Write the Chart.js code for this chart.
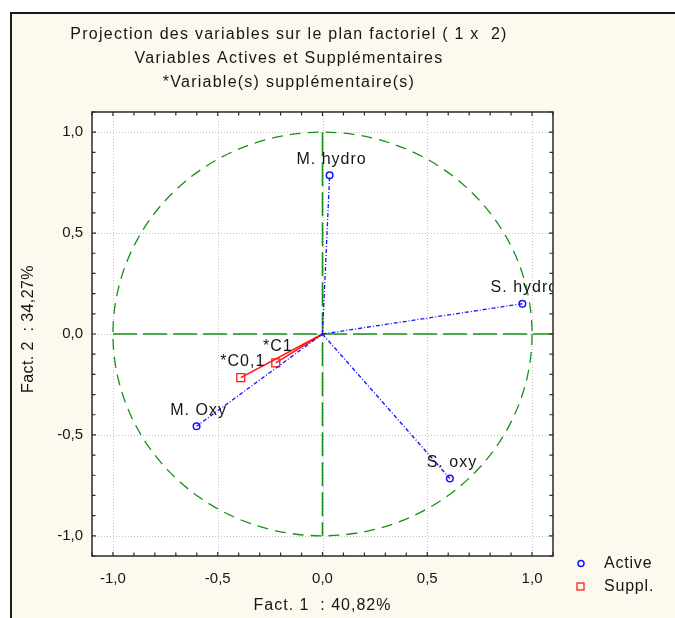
<!DOCTYPE html>
<html>
<head>
<meta charset="utf-8">
<script src="https://cdn.jsdelivr.net/npm/chart.js@4.4.1/dist/chart.umd.min.js"></script>
<style>
  html, body { margin: 0; padding: 0; background: #ffffff; }
  #wrap { width: 675px; height: 618px; }
</style>
</head>
<body>
<div id="wrap"><canvas id="c" width="675" height="618"></canvas></div>
<script>
// ---- data ----
const titleLines = [
  'Projection des variables sur le plan factoriel ( 1 x  2)',
  'Variables Actives et Supplémentaires',
  '*Variable(s) supplémentaire(s)'
];
const xAxisTitle = 'Fact. 1  : 40,82%';
const yAxisTitle = 'Fact. 2  : 34,27%';
const tickValues = [-1.0, -0.5, 0.0, 0.5, 1.0];
const axisMin = -1.1;
const axisMax = 1.1;

const activeNames = ['M. hydro', 'S. hydro', 'S. oxy', 'M. Oxy'];
const activeX = [0.034, 0.954, 0.608, -0.601];
const activeY = [0.786, 0.150, -0.716, -0.457];

const supplNames = ['*C0,1', '*C1'];
const supplX = [-0.390, -0.223];
const supplY = [-0.216, -0.143];

const legendLabels = ['Active', 'Suppl.'];

// ---- styles ----
const FONT = '"Liberation Sans", Arial, sans-serif';
const TEXT = '#161616';
const BLUE = '#1414ff';
const RED = '#ff1a1a';
const GREEN = '#179017';

function setLS(ctx, px) { if ('letterSpacing' in ctx) ctx.letterSpacing = px + 'px'; }

const datasets = [];
activeNames.forEach((n, i) => {
  datasets.push({
    label: n, kind: 'active',
    data: [{x: 0, y: 0}, {x: activeX[i], y: activeY[i]}],
    showLine: true, borderColor: BLUE, borderWidth: 1.3, borderDash: [4, 2, 1, 2],
    pointRadius: [0, 3.3], pointStyle: 'circle', pointBorderColor: BLUE,
    pointBackgroundColor: 'rgba(0,0,0,0)', pointBorderWidth: 1.5
  });
});
supplNames.forEach((n, i) => {
  datasets.push({
    label: n, kind: 'suppl',
    data: [{x: 0, y: 0}, {x: supplX[i], y: supplY[i]}],
    showLine: true, borderColor: RED, borderWidth: 1.6,
    pointRadius: [0, 5.6], pointStyle: 'rect', pointBorderColor: RED,
    pointBackgroundColor: 'rgba(0,0,0,0)', pointBorderWidth: 1.3
  });
});

const fmt = v => v.toFixed(1).replace('.', ',');

const decor = {
  id: 'decor',
  beforeDraw(chart) {
    const ctx = chart.ctx, a = chart.chartArea;
    ctx.save();
    ctx.fillStyle = '#ffffff';
    ctx.fillRect(0, 0, chart.width, chart.height);
    ctx.fillStyle = '#fef9ee';
    ctx.fillRect(11, 13, chart.width - 11, chart.height - 13);
    ctx.strokeStyle = '#1a1a1a';
    ctx.lineWidth = 2;
    ctx.beginPath();
    ctx.moveTo(11, chart.height);
    ctx.lineTo(11, 13);
    ctx.lineTo(chart.width, 13);
    ctx.stroke();
    ctx.fillStyle = '#ffffff';
    ctx.fillRect(a.left, a.top, a.right - a.left, a.bottom - a.top);
    ctx.restore();
  },
  beforeDatasetsDraw(chart) {
    const ctx = chart.ctx, a = chart.chartArea;
    const xs = chart.scales.x, ys = chart.scales.y;
    ctx.save();
    ctx.beginPath();
    ctx.rect(a.left, a.top, a.right - a.left, a.bottom - a.top);
    ctx.clip();
    // dotted grid
    ctx.strokeStyle = '#c4c4c4';
    ctx.lineWidth = 1;
    ctx.setLineDash([1, 2]);
    tickValues.forEach(v => {
      const px = Math.round(xs.getPixelForValue(v)) + 0.5;
      const py = Math.round(ys.getPixelForValue(v)) + 0.5;
      ctx.beginPath(); ctx.moveTo(px, a.top); ctx.lineTo(px, a.bottom); ctx.stroke();
      ctx.beginPath(); ctx.moveTo(a.left, py); ctx.lineTo(a.right, py); ctx.stroke();
    });
    // unit circle
    const cx = xs.getPixelForValue(0), cy = ys.getPixelForValue(0);
    const rx = Math.abs(xs.getPixelForValue(1) - cx);
    const ry = Math.abs(ys.getPixelForValue(1) - cy);
    ctx.strokeStyle = GREEN;
    ctx.lineWidth = 1.3;
    ctx.setLineDash([11, 7]);
    ctx.beginPath();
    ctx.ellipse(cx, cy, rx, ry, 0, 0, Math.PI * 2);
    ctx.stroke();
    // axes through origin
    ctx.lineWidth = 1.6;
    ctx.setLineDash([24, 6]);
    ctx.beginPath();
    ctx.moveTo(xs.getPixelForValue(-1), cy);
    ctx.lineTo(a.right, cy);
    ctx.stroke();
    ctx.beginPath();
    ctx.moveTo(cx, ys.getPixelForValue(1));
    ctx.lineTo(cx, ys.getPixelForValue(-1));
    ctx.stroke();
    ctx.restore();
  },
  afterDatasetsDraw(chart) {
    const ctx = chart.ctx, a = chart.chartArea;
    ctx.save();
    ctx.beginPath();
    ctx.rect(a.left, a.top, a.right - a.left, a.bottom - a.top);
    ctx.clip();
    ctx.font = '16px ' + FONT;
    setLS(ctx, 1);
    ctx.fillStyle = TEXT;
    ctx.textAlign = 'center';
    ctx.textBaseline = 'middle';
    chart.data.datasets.forEach((ds, i) => {
      const pt = chart.getDatasetMeta(i).data[1];
      ctx.fillText(ds.label, pt.x + 2, pt.y - 16);
    });
    ctx.restore();
  },
  afterDraw(chart) {
    const ctx = chart.ctx, a = chart.chartArea;
    const xs = chart.scales.x, ys = chart.scales.y;
    ctx.save();
    // plot frame
    ctx.strokeStyle = '#2a2a2a';
    ctx.lineWidth = 1.5;
    ctx.strokeRect(a.left, a.top, a.right - a.left, a.bottom - a.top);
    // inward ticks every 0.1
    ctx.lineWidth = 1.2;
    for (let k = -11; k <= 11; k++) {
      const v = k / 10;
      const px = xs.getPixelForValue(v), py = ys.getPixelForValue(v);
      const len = (k % 5 === 0) ? 4 : 3.5;
      ctx.beginPath();
      ctx.moveTo(px, a.bottom); ctx.lineTo(px, a.bottom - len);
      ctx.moveTo(px, a.top); ctx.lineTo(px, a.top + len);
      ctx.moveTo(a.left, py); ctx.lineTo(a.left + len, py);
      ctx.moveTo(a.right, py); ctx.lineTo(a.right - len, py);
      ctx.stroke();
    }
    // titles
    ctx.fillStyle = TEXT;
    ctx.textAlign = 'center';
    ctx.textBaseline = 'middle';
    ctx.font = '16px ' + FONT;
    setLS(ctx, 1.25);
    const ty = [35, 59, 83];
    titleLines.forEach((t, i) => ctx.fillText(t, 289, ty[i]));
    // axis titles
    ctx.font = '16px ' + FONT;
    setLS(ctx, 1);
    ctx.fillText(xAxisTitle, (a.left + a.right) / 2, 606);
    ctx.save();
    setLS(ctx, 0.4);
    ctx.translate(29, 329);
    ctx.rotate(-Math.PI / 2);
    ctx.fillText(yAxisTitle, 0, 0);
    ctx.restore();
    // legend
    ctx.lineWidth = 1.5;
    ctx.strokeStyle = BLUE;
    ctx.beginPath(); ctx.arc(581, 563.5, 3, 0, Math.PI * 2); ctx.stroke();
    ctx.strokeStyle = RED;
    ctx.lineWidth = 1.3;
    ctx.strokeRect(577, 583, 7, 7);
    ctx.textAlign = 'left';
    ctx.font = '16px ' + FONT;
    setLS(ctx, 0.8);
    ctx.fillText(legendLabels[0], 604, 563.5);
    ctx.fillText(legendLabels[1], 604, 587);
    ctx.restore();
  }
};

new Chart(document.getElementById('c'), {
  type: 'scatter',
  data: { datasets },
  options: {
    responsive: false,
    animation: false,
    devicePixelRatio: 1,
    layout: { padding: { left: 12, top: 112, right: 122, bottom: 12 } },
    plugins: { legend: { display: false }, title: { display: false }, tooltip: { enabled: false } },
    scales: {
      x: {
        type: 'linear', min: axisMin, max: axisMax,
        grid: { display: false, drawTicks: false }, border: { display: false },
        afterBuildTicks: s => { s.ticks = tickValues.map(v => ({ value: v })); },
        afterFit: s => { s.height = 50; },
        ticks: { callback: v => fmt(v), color: TEXT, padding: 14, maxRotation: 0,
                 autoSkip: false, font: { family: FONT, size: 15 } }
      },
      y: {
        type: 'linear', min: axisMin, max: axisMax,
        grid: { display: false, drawTicks: false }, border: { display: false },
        afterBuildTicks: s => { s.ticks = tickValues.map(v => ({ value: v })); },
        afterFit: s => { s.width = 80; },
        ticks: { callback: v => fmt(v), color: TEXT, padding: 9,
                 autoSkip: false, font: { family: FONT, size: 15 } }
      }
    }
  },
  plugins: [decor]
});
</script>
</body>
</html>
